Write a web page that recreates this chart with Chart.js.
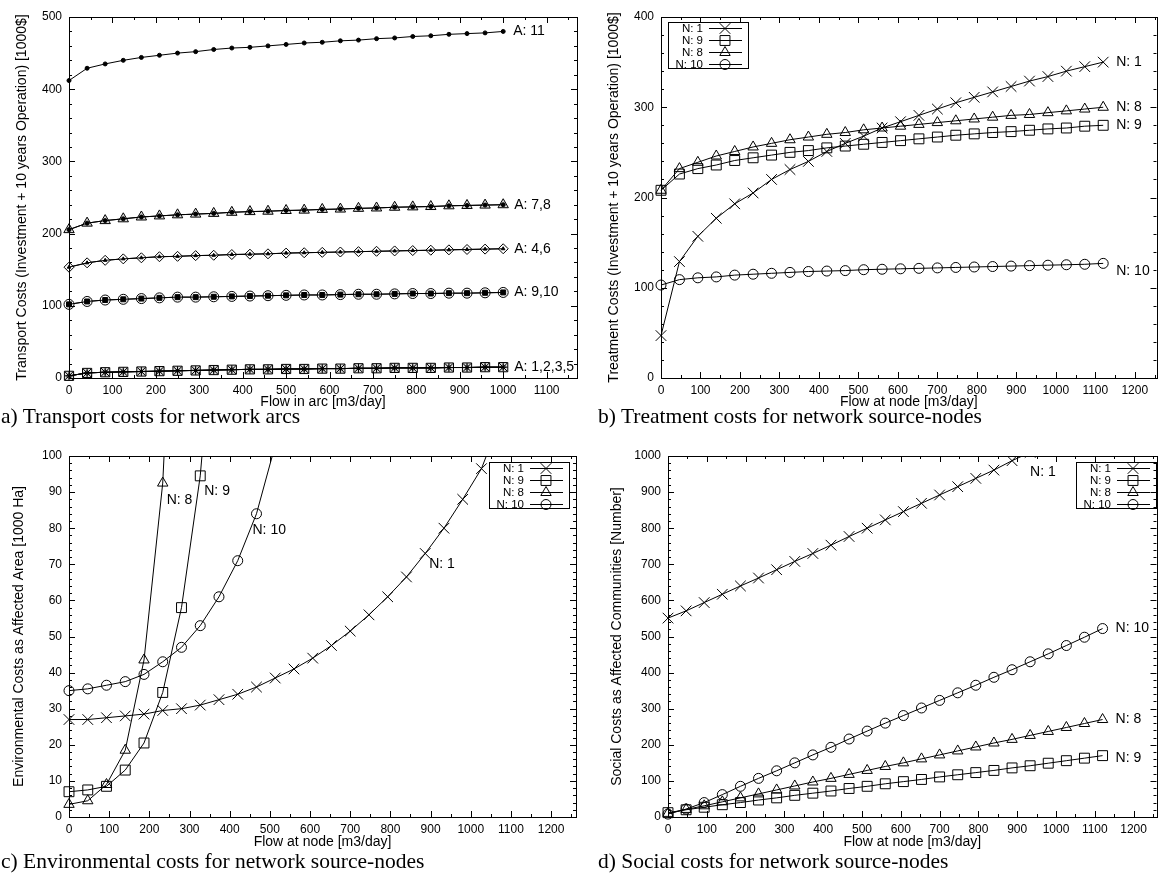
<!DOCTYPE html>
<html>
<head>
<meta charset="utf-8">
<script src="https://cdn.jsdelivr.net/npm/chart.js@4.4.1/dist/chart.umd.min.js"></script>
<style>
  body { margin: 0; background: #fff; width: 1165px; height: 880px; position: relative; overflow: hidden; }
  canvas { position: absolute; }
  .cap { position: absolute; font-family: "Liberation Serif", serif; font-size: 21.5px; line-height: 22px; white-space: nowrap; color: #000; }
</style>
</head>
<body>
<canvas id="pa" width="585" height="412" style="left:0;top:0"></canvas>
<canvas id="pb" width="580" height="412" style="left:585px;top:0"></canvas>
<canvas id="pc" width="585" height="412" style="left:0;top:440px"></canvas>
<canvas id="pd" width="580" height="412" style="left:585px;top:440px"></canvas>
<div class="cap" style="left:1px;top:405px">a) Transport costs for network arcs</div>
<div class="cap" style="left:598px;top:405px">b) Treatment costs for network source-nodes</div>
<div class="cap" style="left:1px;top:850px">c) Environmental costs for network source-nodes</div>
<div class="cap" style="left:598px;top:850px">d) Social costs for network source-nodes</div>
<script>
// ---- data ----
// a) flow in arc [m3/day] and transport cost per arc group [1000$]
const arcFlow = [0, 41.7, 83.3, 125, 166.7, 208.3, 250, 291.7, 333.3, 375, 416.7, 458.3, 500,
                 541.7, 583.3, 625, 666.7, 708.3, 750, 791.7, 833.3, 875, 916.7, 958.3, 1000];
const arcNames = ['A: 11', 'A: 7,8', 'A: 4,6', 'A: 9,10', 'A: 1,2,3,5'];
const costA11 = [412, 429, 435, 440, 444, 447, 450, 452, 455, 457, 458, 460, 462,
                 464, 465, 467, 468, 470, 471, 473, 474, 476, 477, 478, 480];
const costA78 = [205.5, 214.5, 218, 220.5, 223, 224.5, 226, 227, 228, 229.5, 230.5, 231, 232,
                 232.5, 233.5, 234, 235, 235.5, 236.5, 237, 237.5, 238.5, 239, 239.5, 240];
const costA46 = [153.5, 159.5, 163, 165, 166.5, 168, 168.5, 169.5, 170, 171, 171.5, 172, 173,
                 173.5, 174, 174.5, 175, 175.5, 176, 176.5, 177, 177.5, 178, 178.5, 179];
const costA910 = [102, 106, 108, 109, 110, 111, 112, 112, 112.5, 113, 113.5, 114, 114.5,
                  115, 115, 115.5, 116, 116, 116.5, 117, 117, 117.5, 117.5, 118, 118.5];
const costA1235 = [3, 7, 8, 8.5, 9, 9.5, 10, 10.5, 11, 11.5, 12, 12, 12.5,
                   12.5, 13, 13, 13.5, 13.5, 14, 14, 14, 14.5, 14.5, 15, 15];

// b, c, d) flow at source node [m3/day]
const nodeFlow = [0, 46.7, 93.3, 140, 186.7, 233.3, 280, 326.7, 373.3, 420, 466.7, 513.3, 560,
                  606.7, 653.3, 700, 746.7, 793.3, 840, 886.7, 933.3, 980, 1026.7, 1073.3, 1120];
const nodeNames = ['N: 1', 'N: 9', 'N: 8', 'N: 10'];

// b) treatment costs [1000$]
const treatN1 = [47, 129, 157, 177, 193, 205, 220, 231, 240, 251, 260, 268, 277,
                 284, 291, 298, 305, 311, 317, 323, 329, 334, 340, 345, 350];
const treatN9 = [208, 226, 232, 236, 241, 244, 247, 250, 252, 255, 257, 259, 261,
                 263, 265, 267, 269, 270.5, 272, 273, 274.5, 276, 277, 279, 280];
const treatN8 = [208, 232, 239, 246, 251, 256, 260, 264, 267, 270, 272, 275, 277,
                 279, 281, 283, 285, 287, 289, 291, 292, 294, 296, 298, 300];
const treatN10 = [103, 109, 111, 112, 114, 115, 116, 117, 118, 118.5, 119, 120, 120.5,
                  121, 121.5, 122, 122.5, 123, 123.5, 124, 124.5, 125, 125.5, 126, 127];

// c) environmental costs [1000 Ha]
const envN1 = [27, 27, 27.5, 28, 28.5, 29.5, 30, 31, 32.5, 34, 36, 38.5, 41,
               44, 47.5, 51.5, 56, 61, 66.5, 73, 80, 88, 96.5, 110];
const envN9 = [7, 7.5, 8.5, 13, 20.5, 34.5, 58, 94.5, 155];
const envN8 = [3.5, 4.5, 9, 18.5, 43.5, 92.5, 200];
const envN10 = [35, 35.5, 36.5, 37.5, 39.5, 43, 47, 53, 61, 71, 84, 103];

// d) social costs [number of communities]
const socN1 = [551, 571, 594, 617, 640, 662, 685, 708, 730, 753, 777, 800, 823,
               846, 869, 892, 915, 938, 961, 987, 1010];
const socN9 = [12, 20, 27, 34, 40, 47, 53, 60, 66, 72, 79, 85, 92,
               98, 104, 111, 117, 123, 129, 136, 142, 149, 156, 163, 170];
const socN8 = [10, 21, 31, 42, 53, 64, 75, 86, 97, 107, 118, 129, 140,
               150, 161, 172, 183, 194, 205, 215, 226, 237, 248, 259, 270];
const socN10 = [8, 22, 40, 62, 85, 107, 128, 150, 172, 193, 216, 238, 260,
                281, 302, 323, 344, 365, 387, 408, 430, 452, 475, 498, 522];

// tick labels
const arcTicks = [0, 100, 200, 300, 400, 500, 600, 700, 800, 900, 1000, 1100];
const nodeTicks = [0, 100, 200, 300, 400, 500, 600, 700, 800, 900, 1000, 1100, 1200];
const yTicksA = [0, 100, 200, 300, 400, 500];
const yTicksB = [0, 100, 200, 300, 400];
const yTicksC = [0, 10, 20, 30, 40, 50, 60, 70, 80, 90, 100];
const yTicksD = [0, 100, 200, 300, 400, 500, 600, 700, 800, 900, 1000];

// ---- styles ----
const FONT = 'Liberation Sans';
const open = 'rgba(0,0,0,0)';
const nodeMarks = [
  {pointStyle: 'crossRot', pointRadius: 7.5},
  {pointStyle: 'rect', pointRadius: 7},
  {pointStyle: 'triangle', pointRadius: 6},
  {pointStyle: 'circle', pointRadius: 5}
];

function pts(xs, ys) {
  return ys.map((v, i) => ({x: xs[i], y: v}));
}

function series(label, xs, ys, mark, fill) {
  return Object.assign({
    label: label,
    data: pts(xs, ys),
    showLine: true,
    borderColor: '#000',
    borderWidth: 1,
    tension: 0,
    pointBorderColor: '#000',
    pointBackgroundColor: fill || open,
    pointBorderWidth: 1,
    clip: {left: 12, right: 12, bottom: 12, top: 0}
  }, mark);
}

// inward major/minor ticks on all four sides plus the border
function makeFrame(p) {
  return {
    id: 'frame',
    afterDatasetsDraw(chart) {
      const {ctx, chartArea: a, scales: {x, y}} = chart;
      ctx.save();
      ctx.strokeStyle = '#000';
      ctx.lineWidth = 1;
      ctx.beginPath();
      for (let i = 0; i * 50 <= x.max; i++) {
        const v = i * 50;
        const len = v % 100 === 0 ? 6 : 3;
        const px = Math.round(x.getPixelForValue(v)) + 0.5;
        ctx.moveTo(px, a.bottom); ctx.lineTo(px, a.bottom - len);
        ctx.moveTo(px, a.top); ctx.lineTo(px, a.top + len);
      }
      for (let i = 0; i * p.yMinor <= y.max; i++) {
        const v = i * p.yMinor;
        const len = v % p.yMajor === 0 ? 6 : 3;
        const py = Math.round(y.getPixelForValue(v)) + 0.5;
        ctx.moveTo(a.left, py); ctx.lineTo(a.left + len, py);
        ctx.moveTo(a.right, py); ctx.lineTo(a.right - len, py);
      }
      ctx.stroke();
      ctx.strokeRect(Math.round(a.left) + 0.5, Math.round(a.top) + 0.5,
                     Math.round(a.right - a.left), Math.round(a.bottom - a.top));
      ctx.restore();
    }
  };
}

// curve labels placed next to a point of a dataset
function makeNotes(items) {
  return {
    id: 'notes',
    afterDatasetsDraw(chart) {
      const ctx = chart.ctx;
      ctx.save();
      ctx.font = '14px "' + FONT + '"';
      ctx.fillStyle = '#000';
      ctx.textAlign = 'left';
      ctx.textBaseline = 'middle';
      items.forEach(n => {
        const meta = chart.getDatasetMeta(n.ds);
        const p = meta.data[n.at == null ? meta.data.length - 1 : n.at];
        if (p) ctx.fillText(n.text, p.x + n.dx, p.y + n.dy);
      });
      ctx.restore();
    }
  };
}

// gnuplot style key box
function makeKey(k) {
  return {
    id: 'keybox',
    afterDatasetsDraw(chart) {
      if (!k) return;
      const {ctx, chartArea: a} = chart;
      const w = 80, h = 46;
      const left = Math.round(k.side === 'left' ? a.left + k.dx : a.right - k.dx - w);
      const top = Math.round(a.top + k.dy);
      ctx.save();
      ctx.strokeStyle = '#000';
      ctx.lineWidth = 1;
      ctx.strokeRect(left + 0.5, top + 0.5, w, h);
      ctx.font = '11.5px "' + FONT + '"';
      ctx.textAlign = 'right';
      ctx.textBaseline = 'middle';
      chart.data.datasets.forEach((ds, i) => {
        const yy = top + 6 + 12 * i + 0.5;
        ctx.fillStyle = '#000';
        ctx.fillText(ds.label, left + 35, yy);
        ctx.beginPath();
        ctx.moveTo(left + 41, yy); ctx.lineTo(left + 74, yy);
        ctx.stroke();
        ctx.fillStyle = open;
        Chart.helpers.drawPoint(ctx, {pointStyle: ds.pointStyle, radius: ds.pointRadius, borderWidth: 1, rotation: 0}, left + 57, yy);
      });
      ctx.restore();
    }
  };
}

function panel(id, p, datasets) {
  const tickFont = {family: FONT, size: 12};
  const titleFont = {family: FONT, size: 14};
  return new Chart(document.getElementById(id), {
    type: 'scatter',
    data: {datasets: datasets},
    plugins: [makeFrame(p), makeNotes(p.notes), makeKey(p.key)],
    options: {
      responsive: false,
      animation: false,
      events: [],
      layout: {padding: {left: 0, top: p.top, right: p.right, bottom: 1}},
      plugins: {legend: {display: false}, tooltip: {enabled: false}},
      scales: {
        x: {
          type: 'linear', min: 0, max: p.xMax,
          afterBuildTicks: ax => { ax.ticks = p.xTicks.map(v => ({value: v})); },
          afterFit: ax => { ax.height = p.xH; },
          grid: {display: false, drawTicks: false},
          border: {display: false},
          ticks: {padding: 5, font: tickFont, color: '#000', maxRotation: 0, autoSkip: false, callback: v => String(v)},
          title: {display: true, text: p.xTitle, font: titleFont, color: '#000', padding: 0}
        },
        y: {
          type: 'linear', min: 0, max: p.yMax,
          afterBuildTicks: ax => { ax.ticks = p.yTicks.map(v => ({value: v})); },
          afterFit: ax => { ax.width = p.yW; },
          grid: {display: false, drawTicks: false},
          border: {display: false},
          ticks: {padding: 7, font: tickFont, color: '#000', autoSkip: false, callback: v => String(v)},
          title: {display: true, text: p.yTitle, font: titleFont, color: '#000', padding: {top: p.yPad, bottom: 0}}
        }
      }
    }
  });
}

// a) transport costs (lower dataset index is drawn on top)
panel('pa', {
  top: 17, right: 8, xH: 33, yW: 69, yPad: 14,
  xMax: 1170, yMax: 500, xTicks: arcTicks, yTicks: yTicksA, yMinor: 20, yMajor: 100,
  xTitle: 'Flow in arc [m3/day]',
  yTitle: 'Transport Costs (Investment + 10 years Operation) [1000$]',
  notes: [
    {ds: 0, text: arcNames[0], dx: 10, dy: 0},
    {ds: 1, text: arcNames[1], dx: 11, dy: 0},
    {ds: 3, text: arcNames[2], dx: 11, dy: 0},
    {ds: 5, text: arcNames[3], dx: 11, dy: 0},
    {ds: 7, text: arcNames[4], dx: 11, dy: 0}
  ]
}, [
  series('A: 11', arcFlow, costA11, {pointStyle: 'circle', pointRadius: 2}, '#000'),
  series('A: 8', arcFlow, costA78, {pointStyle: 'circle', pointRadius: 2}, '#000'),
  series('A: 7', arcFlow, costA78, {pointStyle: 'triangle', pointRadius: 6}, '#ddd'),
  series('A: 6', arcFlow, costA46, {pointStyle: 'triangle', pointRadius: 2}, '#000'),
  series('A: 4', arcFlow, costA46, {pointStyle: 'rectRot', pointRadius: 5}, '#fff'),
  series('A: 10', arcFlow, costA910, {pointStyle: 'rect', pointRadius: 3.5}, '#000'),
  series('A: 9', arcFlow, costA910, {pointStyle: 'circle', pointRadius: 5}, '#fff'),
  series('A: 5', arcFlow, costA1235, {pointStyle: 'star', pointRadius: 3}),
  series('A: 3', arcFlow, costA1235, {pointStyle: 'cross', pointRadius: 4.5}),
  series('A: 2', arcFlow, costA1235, {pointStyle: 'crossRot', pointRadius: 6}),
  series('A: 1', arcFlow, costA1235, {pointStyle: 'rect', pointRadius: 6.5}, '#ddd')
]);

// b) treatment costs
panel('pb', {
  top: 17, right: 1, xH: 33, yW: 76, yPad: 21,
  xMax: 1255, yMax: 400, xTicks: nodeTicks, yTicks: yTicksB, yMinor: 20, yMajor: 100,
  xTitle: 'Flow at node [m3/day]',
  yTitle: 'Treatment Costs (Investment + 10 years Operation) [1000$]',
  notes: [
    {ds: 0, text: nodeNames[0], dx: 13, dy: 0},
    {ds: 1, text: nodeNames[1], dx: 13, dy: 0},
    {ds: 2, text: nodeNames[2], dx: 13, dy: 0},
    {ds: 3, text: nodeNames[3], dx: 13, dy: 8}
  ],
  key: {side: 'left', dx: 7, dy: 5}
}, [
  series(nodeNames[0], nodeFlow, treatN1, nodeMarks[0]),
  series(nodeNames[1], nodeFlow, treatN9, nodeMarks[1]),
  series(nodeNames[2], nodeFlow, treatN8, nodeMarks[2]),
  series(nodeNames[3], nodeFlow, treatN10, nodeMarks[3])
]);

// c) environmental costs
panel('pc', {
  top: 16, right: 9, xH: 34, yW: 69, yPad: 11,
  xMax: 1262, yMax: 100, xTicks: nodeTicks, yTicks: yTicksC, yMinor: 2, yMajor: 10,
  xTitle: 'Flow at node [m3/day]',
  yTitle: 'Environmental Costs as Affected Area [1000 Ha]',
  notes: [
    {ds: 0, text: nodeNames[0], at: 19, dx: 4, dy: 11},
    {ds: 1, text: nodeNames[1], at: 7, dx: 4, dy: 15},
    {ds: 2, text: nodeNames[2], at: 5, dx: 4, dy: 17},
    {ds: 3, text: nodeNames[3], at: 10, dx: -4, dy: 16}
  ],
  key: {side: 'right', dx: 7, dy: 6}
}, [
  series(nodeNames[0], nodeFlow, envN1, nodeMarks[0]),
  series(nodeNames[1], nodeFlow, envN9, nodeMarks[1]),
  series(nodeNames[2], nodeFlow, envN8, nodeMarks[2]),
  series(nodeNames[3], nodeFlow, envN10, nodeMarks[3])
]);

// d) social costs
panel('pd', {
  top: 16, right: 1, xH: 34, yW: 83, yPad: 24,
  xMax: 1259, yMax: 1000, xTicks: nodeTicks, yTicks: yTicksD, yMinor: 20, yMajor: 100,
  xTitle: 'Flow at node [m3/day]',
  yTitle: 'Social Costs as Affected Communities [Number]',
  notes: [
    {ds: 0, text: nodeNames[0], at: 19, dx: 18, dy: 11},
    {ds: 1, text: nodeNames[1], dx: 13, dy: 3},
    {ds: 2, text: nodeNames[2], dx: 13, dy: 0},
    {ds: 3, text: nodeNames[3], dx: 13, dy: 0}
  ],
  key: {side: 'right', dx: 1, dy: 6}
}, [
  series(nodeNames[0], nodeFlow, socN1, nodeMarks[0]),
  series(nodeNames[1], nodeFlow, socN9, nodeMarks[1]),
  series(nodeNames[2], nodeFlow, socN8, nodeMarks[2]),
  series(nodeNames[3], nodeFlow, socN10, nodeMarks[3])
]);
</script>
</body>
</html>
